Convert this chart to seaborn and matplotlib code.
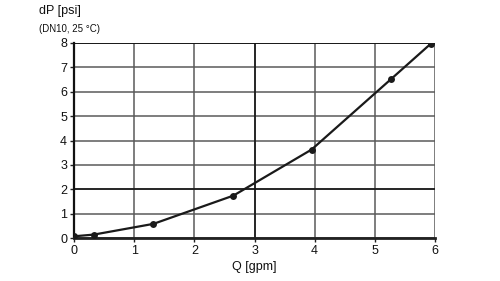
import matplotlib
matplotlib.use("Agg")
import matplotlib.pyplot as plt
import seaborn as sns
import pandas as pd

# Pressure drop curve
q_gpm = [0.0, 0.33, 1.32, 2.65, 3.95, 5.27, 5.93]
dp_psi = [0.07, 0.14, 0.58, 1.74, 3.63, 6.52, 7.97]

x_ticks = [0, 1, 2, 3, 4, 5, 6]
y_ticks = [0, 1, 2, 3, 4, 5, 6, 7, 8]

df = pd.DataFrame({"Q": q_gpm, "dP": dp_psi})

sns.set_theme(style="white")
plt.rcParams["font.family"] = ["Liberation Sans", "DejaVu Sans"]

fig = plt.figure(figsize=(5, 2.81), dpi=100)
ax = fig.add_axes([0.148, 0.153, 0.722, 0.694])

sns.lineplot(data=df, x="Q", y="dP", ax=ax, color="#1a1a1a", linewidth=1.6,
             marker="o", markersize=5, markeredgewidth=0, zorder=5)

ax.set_xlim(0, 6)
ax.set_ylim(0, 8)
ax.set_xticks(x_ticks)
ax.set_yticks(y_ticks)
ax.grid(True, color="#5a5a5a", linewidth=1.1)
ax.set_axisbelow(True)

# a few grid lines are printed darker in the original
ax.axhline(2, color="#111111", linewidth=1.1, zorder=1)
ax.axhline(8, color="#111111", linewidth=1.3, zorder=1)
ax.axvline(3, color="#111111", linewidth=1.1, zorder=1)

for side in ["top", "right"]:
    ax.spines[side].set_visible(False)
ax.spines["left"].set_color("#111111")
ax.spines["left"].set_linewidth(1.6)
ax.spines["bottom"].set_color("#222222")
ax.spines["bottom"].set_linewidth(2.0)

ax.tick_params(axis="both", length=3, width=1, color="#222222",
               labelsize=9, pad=2, bottom=True, left=True)
for lab in ax.get_xticklabels() + ax.get_yticklabels():
    lab.set_color("#111111")

ax.set_xlabel("Q [gpm]", fontsize=9, color="#111111", labelpad=3)
ax.set_ylabel("")
fig.text(0.078, 0.94, "dP [psi]", fontsize=9, color="#111111", va="bottom")
fig.text(0.078, 0.88, "(DN10, 25 °C)", fontsize=7, color="#111111", va="bottom")

fig.savefig("out.png", dpi=100)
